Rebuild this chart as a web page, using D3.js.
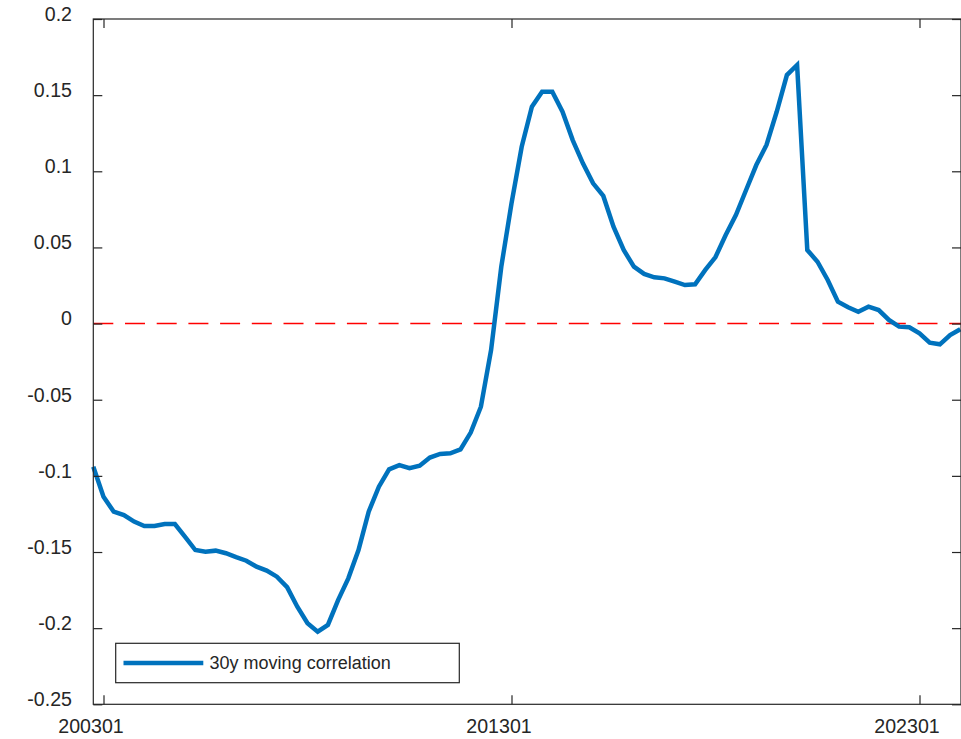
<!DOCTYPE html>
<html>
<head>
<meta charset="utf-8">
<script src="https://cdn.jsdelivr.net/npm/d3@7"></script>
<style>
  html, body { margin: 0; padding: 0; background: #fff; }
  svg { display: block; }
  text { font-family: Arial, "Liberation Sans", sans-serif; fill: #262626; }
</style>
</head>
<body>
<script>
// Quarterly 30-year moving correlation, first observation 2002 Q4
const startTime = 2002.75;
const stepYears = 0.25;
const correlation = [
  -0.094, -0.1137, -0.1235, -0.1257, -0.130, -0.1329, -0.1329, -0.1316, -0.1316, -0.140,
  -0.1487, -0.1498, -0.1491, -0.1508, -0.1534, -0.1557, -0.1596, -0.1622, -0.1662, -0.1731,
  -0.1859, -0.1968, -0.2023, -0.1979, -0.1816, -0.1673, -0.1487, -0.1235, -0.1071, -0.0957,
  -0.0929, -0.095, -0.0933, -0.088, -0.0856, -0.0852, -0.0826, -0.0716, -0.0546, -0.0173,
  0.0374, 0.0789, 0.1161, 0.1424, 0.1523, 0.1523, 0.1391, 0.1205, 0.1052, 0.0921,
  0.0838, 0.0636, 0.0483, 0.0374, 0.0326, 0.0304, 0.0297, 0.0275, 0.0253, 0.0258,
  0.0352, 0.0437, 0.0582, 0.0713, 0.0877, 0.1041, 0.1173, 0.1391, 0.1632, 0.1698,
  0.0483, 0.0406, 0.0286, 0.0144, 0.0107, 0.0078, 0.0111, 0.0089, 0.0024, -0.002,
  -0.0024, -0.0064, -0.0125, -0.0136, -0.0075, -0.0037
];
const xTickTimes = [2003, 2013, 2023];
const xTickLabels = ["200301", "201301", "202301"];
const yTicks = [-0.25, -0.2, -0.15, -0.1, -0.05, 0, 0.05, 0.1, 0.15, 0.2];
const yTickLabels = ["-0.25", "-0.2", "-0.15", "-0.1", "-0.05", "0", "0.05", "0.1", "0.15", "0.2"];
const legendLabel = "30y moving correlation";

const W = 961, H = 739;
const plotLeft = 93.3, plotRight = 961, plotTop = 19, plotBottom = 704.3;
const axisColor = "#262626";
const lineColor = "#0072BD";
const tickLen = 9;

const points = correlation.map((v, i) => ({ t: startTime + i * stepYears, v }));

const x = d3.scaleLinear()
  .domain([startTime, startTime + (correlation.length - 1) * stepYears])
  .range([plotLeft, 960.3]);
const y = d3.scaleLinear().domain([-0.25, 0.2]).range([plotBottom, plotTop]);

const svg = d3.select("body").append("svg").attr("width", W).attr("height", H);

// zero reference line
svg.append("line")
  .attr("x1", plotLeft).attr("x2", plotRight)
  .attr("y1", y(0)).attr("y2", y(0))
  .attr("stroke", "#FF0000").attr("stroke-width", 1.5)
  .attr("stroke-dasharray", "20,11.7");

// correlation series
const line = d3.line().x(d => x(d.t)).y(d => y(d.v));
svg.append("path")
  .datum(points)
  .attr("d", line)
  .attr("fill", "none")
  .attr("stroke", lineColor)
  .attr("stroke-width", 4.5)
  .attr("stroke-linejoin", "miter")
  .attr("stroke-miterlimit", 4);

// axes box
svg.append("rect")
  .attr("x", plotLeft).attr("y", plotTop)
  .attr("width", plotRight - plotLeft).attr("height", plotBottom - plotTop)
  .attr("fill", "none").attr("stroke", axisColor).attr("stroke-width", 1.2);

function styleTicks(g) {
  g.select(".domain").remove();
  g.selectAll("line").attr("stroke", axisColor).attr("stroke-width", 1.2);
}

// y ticks (inward on both sides)
svg.append("g").attr("transform", `translate(${plotLeft},0)`)
  .call(d3.axisLeft(y).tickValues(yTicks).tickSizeInner(-tickLen).tickSizeOuter(0).tickFormat(""))
  .call(styleTicks);
svg.append("g").attr("transform", `translate(${plotRight},0)`)
  .call(d3.axisRight(y).tickValues(yTicks).tickSizeInner(-tickLen).tickSizeOuter(0).tickFormat(""))
  .call(styleTicks);

// x ticks (inward on top and bottom)
svg.append("g").attr("transform", `translate(0,${plotBottom})`)
  .call(d3.axisBottom(x).tickValues(xTickTimes).tickSizeInner(-tickLen).tickSizeOuter(0).tickFormat(""))
  .call(styleTicks);
svg.append("g").attr("transform", `translate(0,${plotTop})`)
  .call(d3.axisTop(x).tickValues(xTickTimes).tickSizeInner(-tickLen).tickSizeOuter(0).tickFormat(""))
  .call(styleTicks);

// y tick labels
svg.append("g").selectAll("text").data(yTicks).join("text")
  .attr("x", 72)
  .attr("y", d => y(d) - 5)
  .attr("dy", "0.35em")
  .attr("text-anchor", "end")
  .attr("font-size", "19.6px")
  .text((d, i) => yTickLabels[i]);

// x tick labels
svg.append("g").selectAll("text").data(xTickTimes).join("text")
  .attr("x", d => x(d) - 12.5)
  .attr("y", 726)
  .attr("dy", "0.35em")
  .attr("text-anchor", "middle")
  .attr("font-size", "19.6px")
  .text((d, i) => xTickLabels[i]);

// legend
const lg = svg.append("g");
lg.append("rect")
  .attr("x", 115.7).attr("y", 643.3).attr("width", 343.6).attr("height", 39.4)
  .attr("fill", "#fff").attr("stroke", axisColor).attr("stroke-width", 1.2);
lg.append("line")
  .attr("x1", 123.5).attr("x2", 203.3).attr("y1", 663).attr("y2", 663)
  .attr("stroke", lineColor).attr("stroke-width", 4.5);
lg.append("text")
  .attr("x", 209.6).attr("y", 662.7).attr("dy", "0.35em")
  .attr("font-size", "18px")
  .text(legendLabel);
</script>
</body>
</html>
